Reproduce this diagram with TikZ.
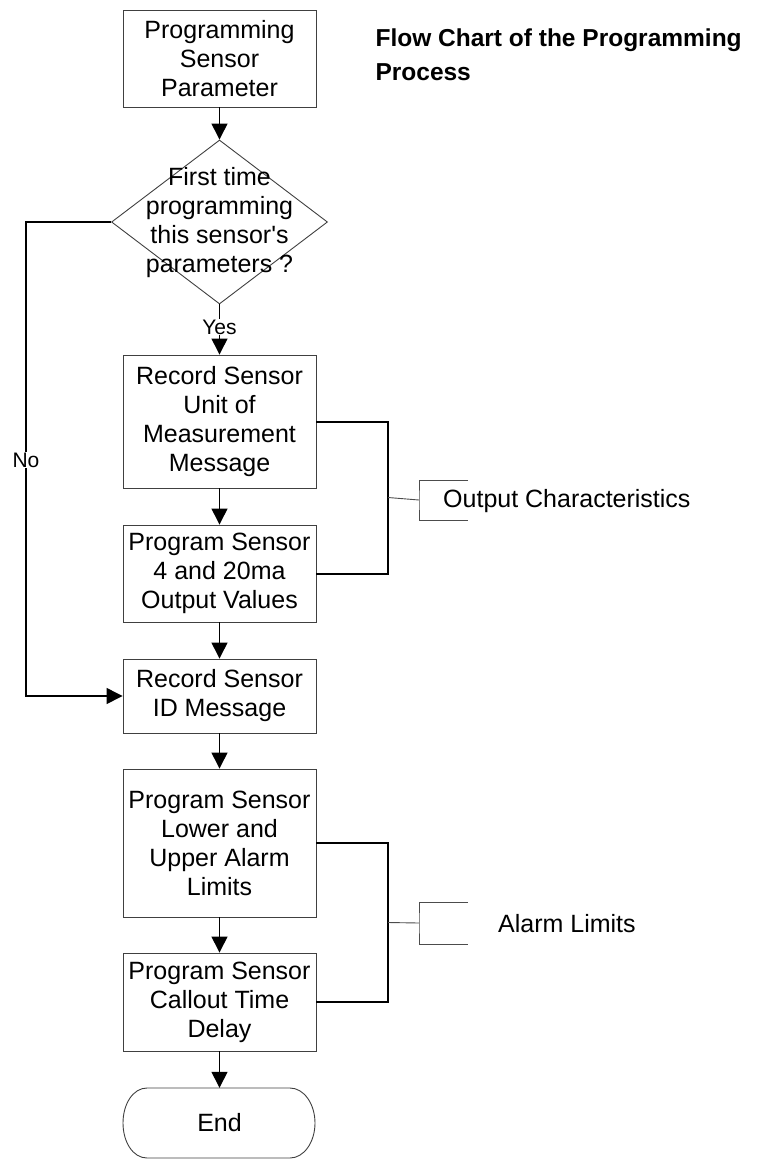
\documentclass[tikz,border=0pt]{standalone}
\usepackage{fontspec}
\setmainfont{Liberation Sans}
\newfontfamily\arialfont{Liberation Sans}
\usetikzlibrary{arrows.meta,shapes.geometric}
\begin{document}
\begin{tikzpicture}[x=1pt,y=-1pt,
  every node/.style={font=\arialfont\fontsize{25}{29}\selectfont},
  procbox/.style={draw=black!75,line width=0.9pt,minimum width=193pt,inner sep=0pt,align=center},
  arr/.style={line width=1.3pt,-{Triangle[width=16pt,length=16pt]}},
  brk/.style={line width=2pt},
  anno/.style={draw=black!70,line width=0.9pt},
  lbl/.style={fill=white,inner sep=1pt}]
\useasboundingbox (0,0) rectangle (765,1159);
% boxes
\node[procbox,minimum height=97pt] (b1) at (219.5,58.5) {Programming\\Sensor\\Parameter};
\node[draw=black!75,line width=0.9pt,shape=diamond,minimum width=216pt,minimum height=164pt,inner sep=0pt] (d) at (219.5,222) {};
\node[align=center,inner sep=0pt] (dtext) at (219.5,223) {First time\\programming\\this sensor's\\parameters ?};
\node[procbox,minimum height=133pt] (b2) at (219.5,421.5) {Record Sensor\\Unit of\\Measurement\\Message};
\node[procbox,minimum height=97pt] (b3) at (219.5,573.5) {Program Sensor\\4 and 20ma\\Output Values};
\node[procbox,minimum height=74pt] (b4) at (219.5,696) {Record Sensor\\ID Message};
\node[procbox,minimum height=148pt] (b5) at (219.5,843) {Program Sensor\\Lower and\\Upper Alarm\\Limits};
\node[procbox,minimum height=98pt] (b6) at (219.5,1002) {Program Sensor\\Callout Time\\Delay};
\node[minimum width=193pt,minimum height=70pt,inner sep=0pt] (end) at (219.5,1123) {End};
\draw[draw=black!75,line width=0.9pt] (147,1088) -- (290,1088)
  .. controls (304,1088) and (315,1104) .. (315,1123)
  .. controls (315,1142) and (304,1158) .. (290,1158) -- (147,1158)
  .. controls (133,1158) and (123,1142) .. (123,1123)
  .. controls (123,1104) and (133,1088) .. (147,1088) -- cycle;
% title
\node[anchor=west,align=left,font=\arialfont\fontsize{24.5}{34}\selectfont\bfseries] (title) at (372,55) {Flow Chart of the Programming\\Process};
% main arrows
\draw[arr] (b1.south) -- (d.north);
\draw[arr] (d.south) -- (b2.north);
\node[lbl,font=\arialfont\fontsize{21}{25}\selectfont] (yes) at (219.5,327) {Yes};
\draw[arr] (b2.south) -- (b3.north);
\draw[arr] (b3.south) -- (b4.north);
\draw[arr] (b4.south) -- (b5.north);
\draw[arr] (b5.south) -- (b6.north);
\draw[arr] (b6.south) -- (end.north);
% No path
\coordinate (nocorner) at (26,460);
\draw[arr] (d.west) -| (nocorner) |- (b4.west);
\node[lbl,font=\arialfont\fontsize{21}{25}\selectfont] (no) at (nocorner) {No};
% Output characteristics bracket
\coordinate (j1) at (388,497.5);
\draw[brk] (b2.east) -| (j1) |- (b3.east);
\coordinate (oc1) at (419,500);
\coordinate (oct) at (468,480);
\coordinate (ocb) at (468,520);
\draw[anno] (j1) -- (oc1);
\draw[anno] (oct) -| (oc1) |- (ocb);
\node[anchor=west,inner sep=0pt] (oc) at (443,501) {Output Characteristics};
% Alarm limits bracket
\coordinate (j2) at (388,922.5);
\draw[brk] (b5.east) -| (j2) |- (b6.east);
\coordinate (al1) at (419,923);
\coordinate (alt) at (468,902);
\coordinate (alb) at (468,944);
\draw[anno] (j2) -- (al1);
\draw[anno] (alt) -| (al1) |- (alb);
\node[anchor=west,inner sep=0pt] (al) at (498,924) {Alarm Limits};
\end{tikzpicture}
\end{document}
